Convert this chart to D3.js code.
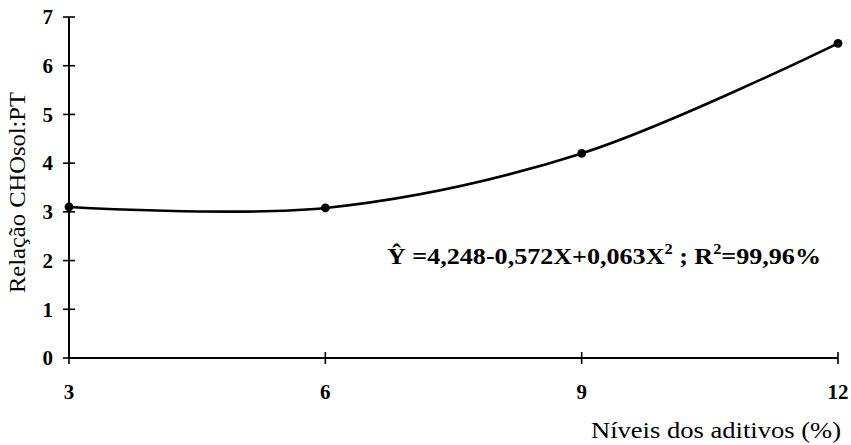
<!DOCTYPE html>
<html>
<head>
<meta charset="utf-8">
<script src="https://cdn.jsdelivr.net/npm/d3@7"></script>
<style>
  html, body { margin: 0; padding: 0; background: #fff; }
  svg { display: block; }
  text { font-family: "Liberation Serif", "Times New Roman", serif; fill: #000; }
</style>
</head>
<body>
<svg id="chart" width="851" height="445"></svg>
<script>
// Additive levels (%) and the CHOsol:PT ratio at each level
const levels = [3, 6, 9, 12];
const ratio = [3.10, 3.08, 4.20, 6.46];
const xTicks = [3, 6, 9, 12];
const yTicks = [0, 1, 2, 3, 4, 5, 6, 7];

const svg = d3.select("#chart");
const W = 851, H = 445;
const m = { left: 69, right: 13, top: 17, bottom: 87 };

const x = d3.scaleLinear().domain([3, 12]).range([m.left, W - m.right]);
const y = d3.scaleLinear().domain([0, 7]).range([H - m.bottom, m.top]);

// Y axis: line with ticks crossing both sides
const yAxis = svg.append("g").attr("transform", `translate(${x(3)},0)`);
yAxis.append("line")
  .attr("x1", 0).attr("x2", 0).attr("y1", y(0)).attr("y2", y(7))
  .attr("stroke", "#000").attr("stroke-width", 2);
yAxis.selectAll("line.tick").data(yTicks).join("line")
  .attr("class", "tick")
  .attr("x1", -6).attr("x2", 6)
  .attr("y1", d => y(d)).attr("y2", d => y(d))
  .attr("stroke", "#000").attr("stroke-width", 1.6);
yAxis.selectAll("text").data(yTicks).join("text")
  .attr("x", -16).attr("y", d => y(d)).attr("dy", "0.35em")
  .attr("text-anchor", "end")
  .style("font-size", "21px").style("font-weight", "bold")
  .text(d => d);

// X axis: line with ticks crossing both sides
const xAxis = svg.append("g").attr("transform", `translate(0,${y(0)})`);
xAxis.append("line")
  .attr("x1", x(3)).attr("x2", x(12)).attr("y1", 0).attr("y2", 0)
  .attr("stroke", "#000").attr("stroke-width", 2);
xAxis.selectAll("line.tick").data(xTicks).join("line")
  .attr("class", "tick")
  .attr("x1", d => x(d)).attr("x2", d => x(d))
  .attr("y1", -6).attr("y2", 6)
  .attr("stroke", "#000").attr("stroke-width", 1.6);
xAxis.selectAll("text").data(xTicks).join("text")
  .attr("x", d => x(d)).attr("y", 41)
  .attr("text-anchor", "middle")
  .style("font-size", "21px").style("font-weight", "bold")
  .text(d => d);

// Axis titles
svg.append("text")
  .attr("transform", `translate(25,${(y(0) + y(7)) / 2 + 5}) rotate(-90)`)
  .attr("text-anchor", "middle")
  .attr("textLength", 201).attr("lengthAdjust", "spacingAndGlyphs")
  .style("font-size", "23px")
  .text("Relação CHOsol:PT");

svg.append("text")
  .attr("x", 841).attr("y", 438)
  .attr("text-anchor", "end")
  .attr("textLength", 250).attr("lengthAdjust", "spacingAndGlyphs")
  .style("font-size", "24px")
  .text("Níveis dos aditivos (%)");

// Smoothed response curve through the observed levels
const pts = levels.map((l, i) => [l, ratio[i]]);
const line = d3.line()
  .x(d => x(d[0])).y(d => y(d[1]))
  .curve(d3.curveCatmullRom.alpha(0.5));
svg.append("path")
  .attr("d", line(pts))
  .attr("fill", "none").attr("stroke", "#000").attr("stroke-width", 2.6);

svg.selectAll("circle.pt").data(pts).join("circle")
  .attr("class", "pt")
  .attr("cx", d => x(d[0])).attr("cy", d => y(d[1]))
  .attr("r", 4.4).attr("fill", "#000");

// Fitted equation
const eq = svg.append("text")
  .attr("x", 387).attr("y", 264)
  .attr("textLength", 434).attr("lengthAdjust", "spacingAndGlyphs")
  .style("font-size", "24px").style("font-weight", "bold");
eq.append("tspan").text("Ŷ =4,248-0,572X+0,063X");
eq.append("tspan").attr("dy", -10).style("font-size", "15px").text("2");
eq.append("tspan").attr("dy", 10).text(" ; R");
eq.append("tspan").attr("dy", -10).style("font-size", "15px").text("2");
eq.append("tspan").attr("dy", 10).text("=99,96%");
</script>
</body>
</html>
